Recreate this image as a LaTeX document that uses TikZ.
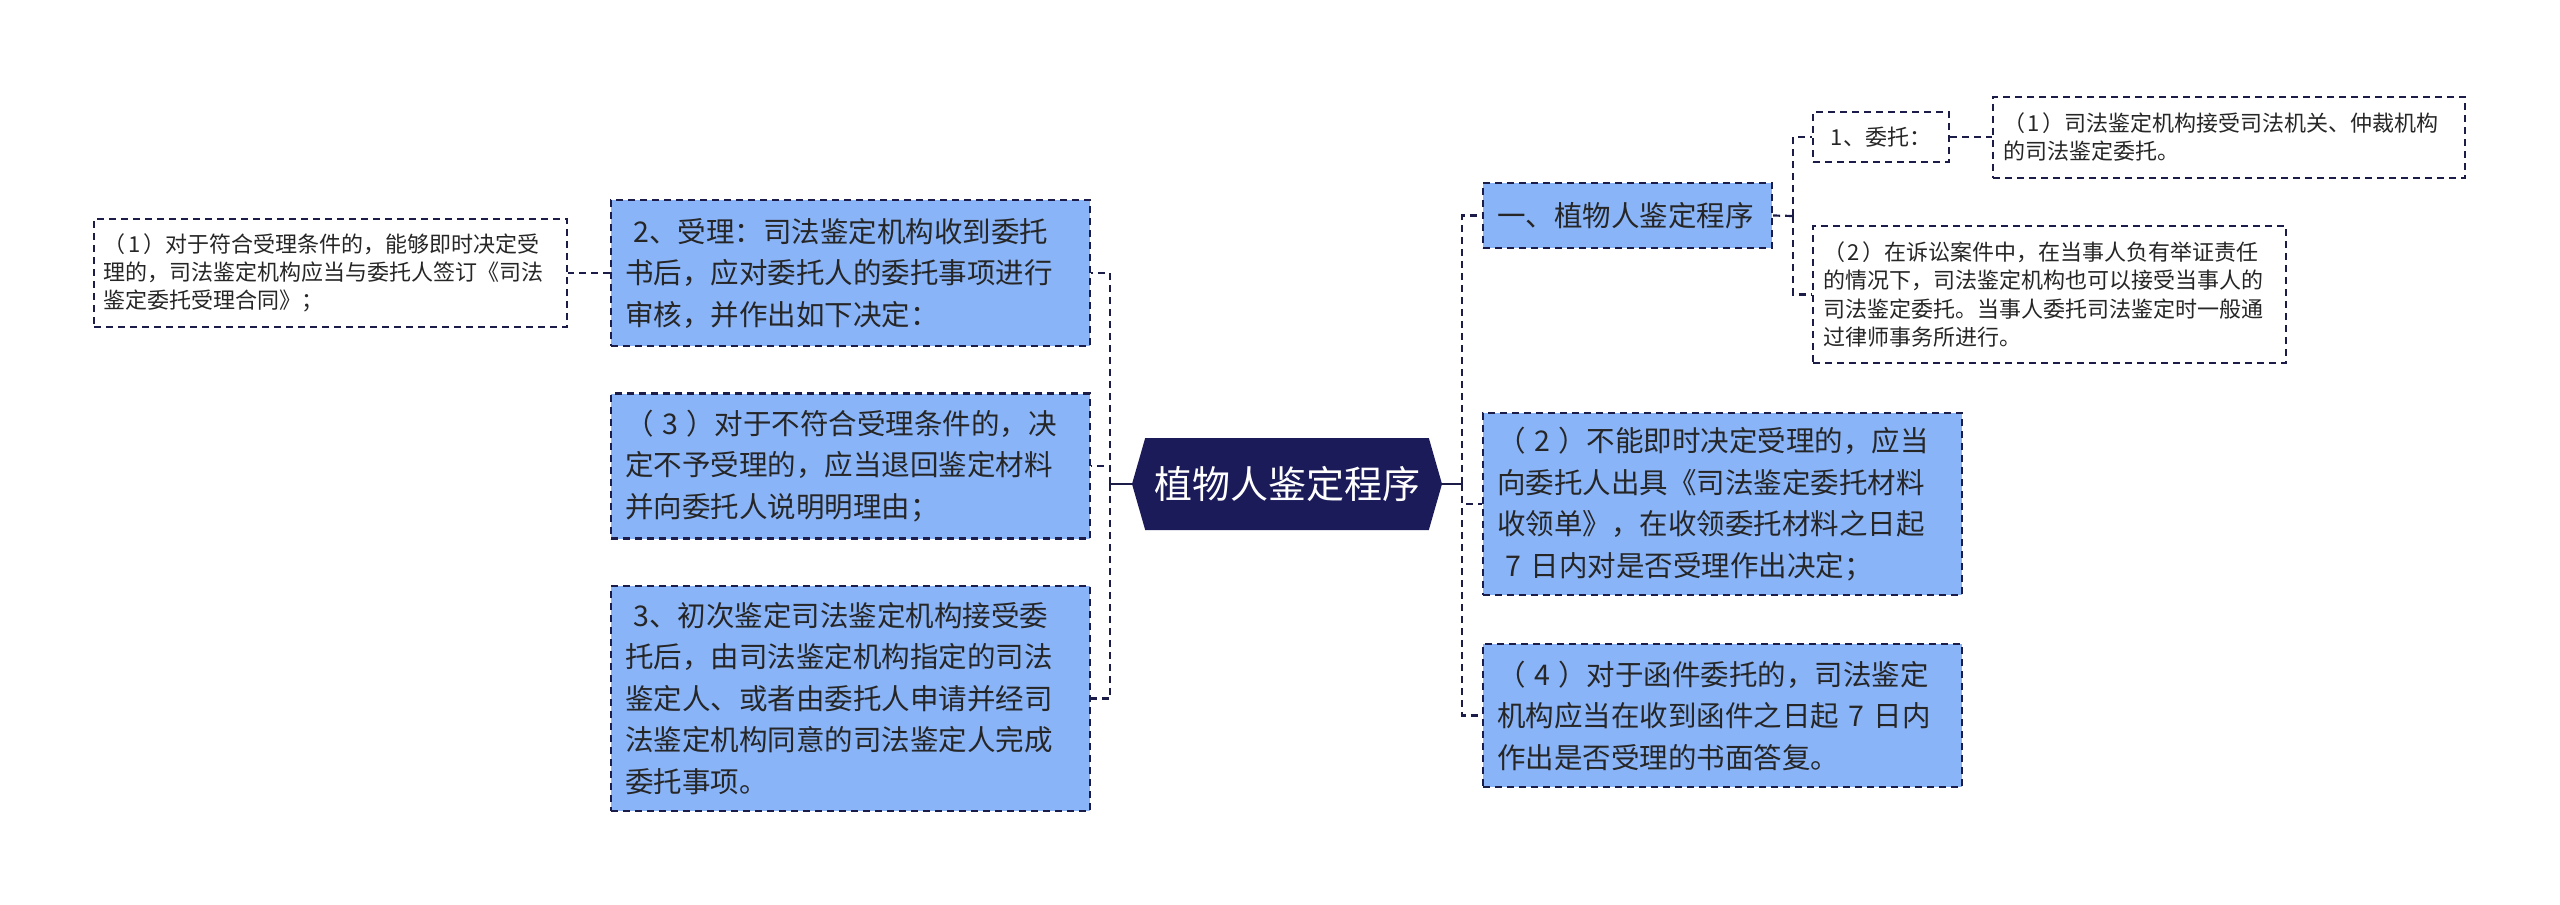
\documentclass[tikz,border=0pt]{standalone}
\usepackage{fontspec}
\setmainfont{Noto Sans CJK SC}
\usetikzlibrary{positioning,shapes.symbols}
\definecolor{plantNavy}{HTML}{1B1B5A}
\definecolor{plantLine}{HTML}{1C1C48}
\definecolor{plantBlue}{HTML}{8AB4F8}
\definecolor{plantInk}{HTML}{262626}
\newcommand{\pn}[1]{（\hspace{.3em}#1\hspace{.3em}）}
\newcommand{\sn}[1]{（\hspace{.12em}#1\hspace{.12em}）}
\tikzset{
  rootnode/.style={signal,signal to=west and east,signal pointer angle=148,
    fill=plantNavy,text=white,inner sep=0pt,minimum width=310pt,minimum height=92pt,
    font=\fontsize{38}{40}\selectfont},
  bluebox/.style={draw=plantLine,fill=plantBlue,dash pattern=on 7pt off 5pt,line width=2.2pt,
    text=plantInk,align=left,text width=451pt,inner xsep=14pt,inner ysep=8pt,
    font=\fontsize{28.5}{41.5}\selectfont},
  notebox/.style={draw=plantLine,fill=white,dash pattern=on 7pt off 5pt,line width=2pt,
    text=plantInk,align=left,text width=453pt,inner xsep=10pt,inner ysep=8pt,
    font=\fontsize{22}{28.3}\selectfont},
  linkline/.style={draw=plantLine,line width=2.2pt,dash pattern=on 7pt off 5pt},
  rootline/.style={draw=plantLine,line width=2.6pt}
}

\begin{document}
\begin{tikzpicture}[x=1pt,y=-1pt]
    \useasboundingbox (0,0) rectangle (2560,905);
    \node[rootnode] (root) at (1287,484) {植物人鉴定程序};
    % left branch
    \node[bluebox,minimum height=146pt] (accept) at (850.5,273) {
      \hspace*{.3em}2、受理：司法鉴定机构收到委托\\
      书后，应对委托人的委托事项进行\\
      审核，并作出如下决定：};
    \node[bluebox,minimum height=145pt] (reject) at (850.5,466) {
      \pn{3}对于不符合受理条件的，决\\
      定不予受理的，应当退回鉴定材料\\
      并向委托人说明明理由；};
    \node[bluebox,minimum height=225pt] (initial) at (850.5,698.5) {
      \hspace*{.3em}3、初次鉴定司法鉴定机构接受委\\
      托后，由司法鉴定机构指定的司法\\
      鉴定人、或者由委托人申请并经司\\
      法鉴定机构同意的司法鉴定人完成\\
      委托事项。};
    \node[notebox,minimum height=108pt,left=42pt of accept] (immediate) {
      \sn{1}对于符合受理条件的，能够即时决定受\\
      理的，司法鉴定机构应当与委托人签订《司法\\
      鉴定委托受理合同》；};
    % right branch
    \node[bluebox,text width=261pt,minimum height=65pt] (procedure) at (1627.5,215.5) {
      一、植物人鉴定程序};
    \node[bluebox,minimum height=182pt] (receipt) at (1722.5,504) {
      \pn{2}不能即时决定受理的，应当\\
      向委托人出具《司法鉴定委托材料\\
      收领单》，在收领委托材料之日起\\
      \hspace*{.3em}7 日内对是否受理作出决定；};
    \node[bluebox,minimum height=143pt] (letter) at (1722.5,715.5) {
      \pn{4}对于函件委托的，司法鉴定\\
      机构应当在收到函件之日起 7 日内\\
      作出是否受理的书面答复。};
    \node[notebox,text width=116pt,align=center,minimum height=50pt] (entrust) at (1881,137) {
      1、委托：};
    \node[notebox,text width=452pt,minimum height=81pt,right=42pt of entrust] (organs) {
      \sn{1}司法鉴定机构接受司法机关、仲裁机构\\
      的司法鉴定委托。};
    \node[notebox,minimum height=137pt] (parties) at (2049.5,294.5) {
      \sn{2}在诉讼案件中，在当事人负有举证责任\\
      的情况下，司法鉴定机构也可以接受当事人的\\
      司法鉴定委托。当事人委托司法鉴定时一般通\\
      过律师事务所进行。};
    % connectors
    \coordinate (leftbus) at (1110,484);
    \coordinate (rightbus) at (1462,484);
    \coordinate (entrustbus) at (1793,216);
    \draw[rootline] (root.west) -- (leftbus);
    \draw[rootline] (root.east) -- (rightbus);
    \foreach \n in {accept,reject,initial}
      \draw[linkline] (leftbus) |- (\n.east);
    \foreach \n in {procedure,receipt,letter}
      \draw[linkline] (rightbus) |- (\n.west);
    \draw[linkline] (accept.west) -- (immediate.east);
    \draw[linkline] (procedure.east) -- (entrustbus);
    \draw[linkline] (entrustbus) |- (entrust.west);
    \draw[linkline] (entrustbus) |- (parties.west);
    \draw[linkline] (entrust.east) -- (organs.west);
  \end{tikzpicture}
\end{document}
